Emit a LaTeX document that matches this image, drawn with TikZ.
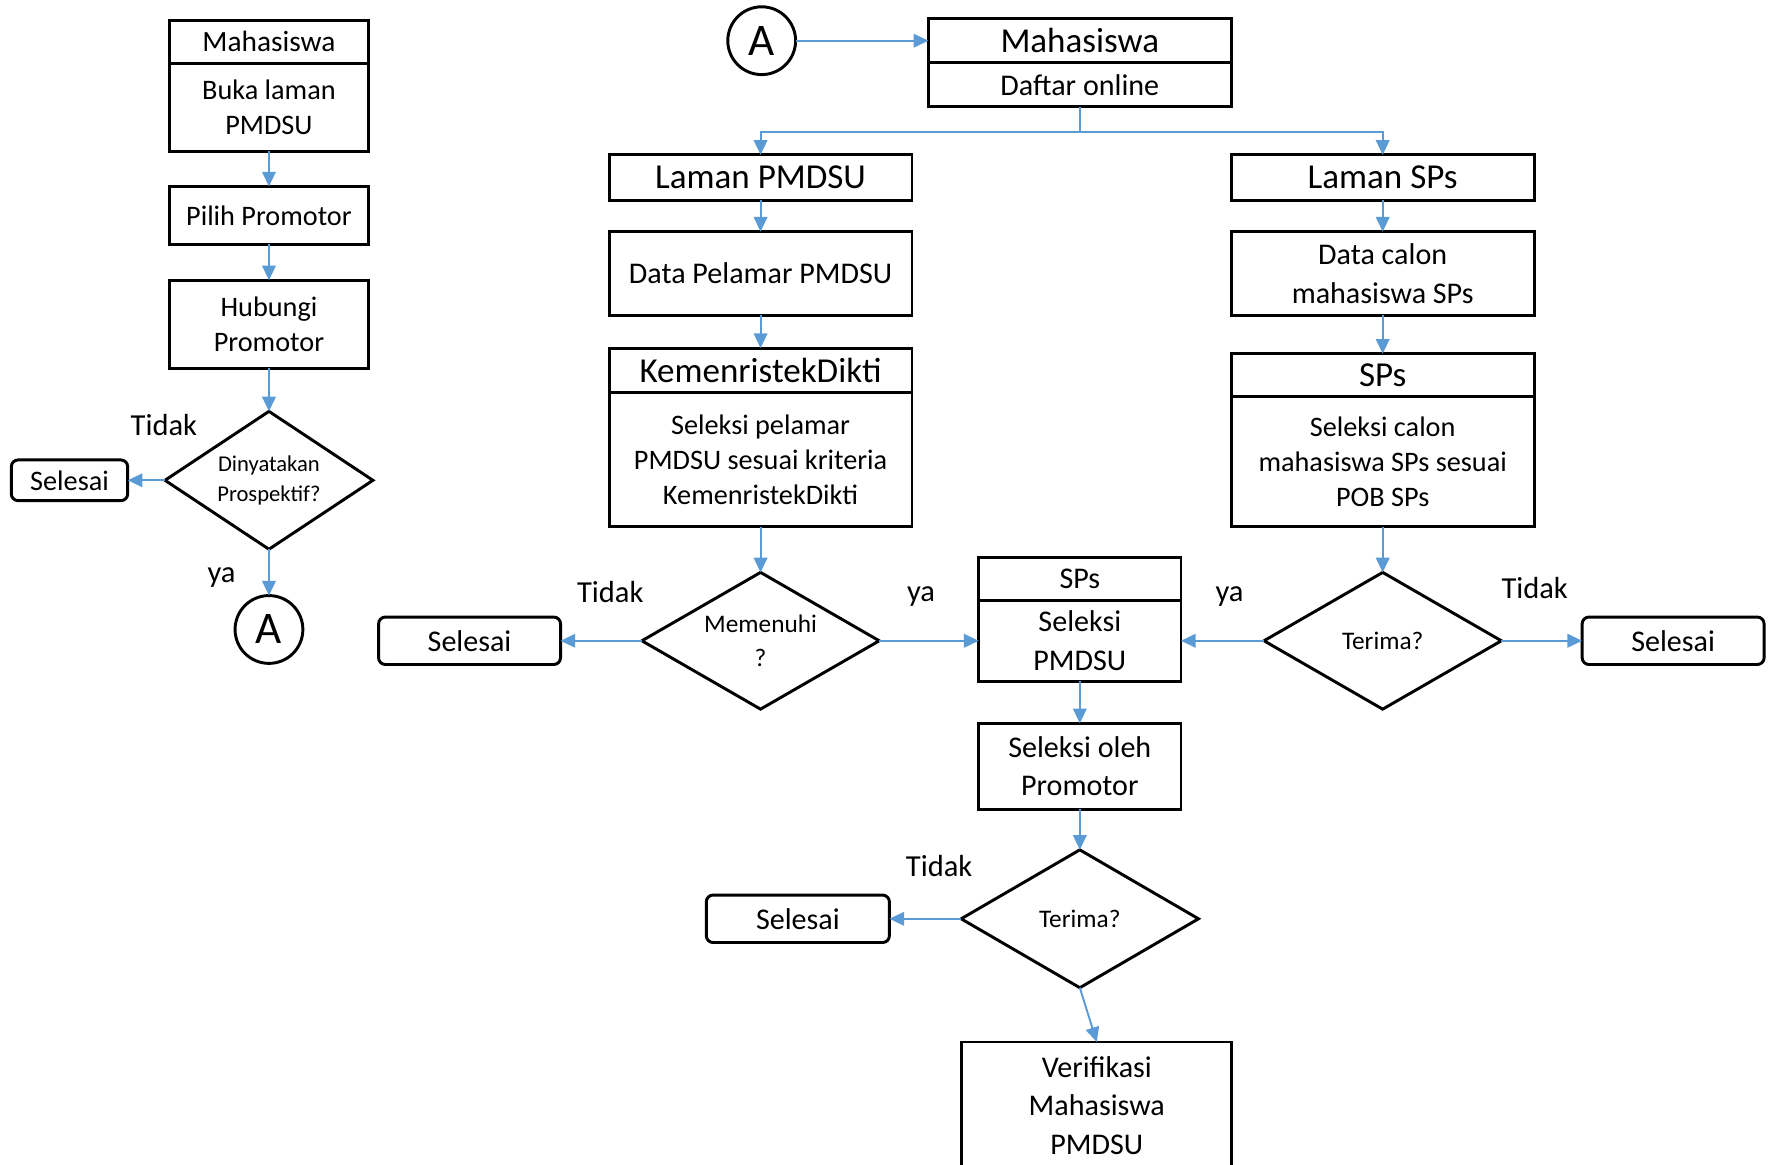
\documentclass[tikz,border=0pt]{standalone}
\usepackage{fontspec}
\setmainfont{Carlito}
\usetikzlibrary{shapes.geometric,positioning,arrows.meta}
\definecolor{flowblue}{HTML}{5B9BD5}
\tikzset{box style/.style={
		draw=black,
		line width=1.3pt,
		fill=white,
		rectangle,
		align=center,
		inner sep=0pt,
		outer sep=0pt,
		font=\fontsize{13.3}{17}\selectfont,
	},
	left box/.style={
		box style,
		minimum width=88pt,
		font=\fontsize{12.5}{15.5}\selectfont,
	},
	wide box/.style={
		box style,
		minimum width=134pt,
	},
	mid box/.style={
		box style,
		minimum width=89.5pt,
	},
	head style/.style={
		font=\fontsize{15.5}{19}\selectfont,
	},
	end style/.style={
		box style,
		rounded corners=3pt,
		minimum width=80.5pt,
		minimum height=21pt,
	},
	decision style/.style={
		draw=black,
		line width=1.3pt,
		diamond,
		aspect=1.7,
		align=center,
		inner sep=0pt,
		outer sep=0pt,
		minimum width=105pt,
		minimum height=60.5pt,
		font=\fontsize{11.2}{15}\selectfont,
	},
	connector style/.style={
		draw=black,
		line width=1.3pt,
		circle,
		inner sep=0pt,
		outer sep=0pt,
		minimum size=30pt,
		font=\fontsize{20}{24}\selectfont,
	},
	arrow style/.style={
		draw=flowblue,
		line width=0.85pt,
	},
	label style/.style={
		font=\fontsize{13.5}{16}\selectfont,
	}
}

\begin{document}
\begin{tikzpicture}[x=0.5pt,y=-0.5pt,>={Triangle[length=6.5pt,width=6pt]}]
	\clip (0,0) rectangle (1568,1030);
	
	\node[left box, minimum height=19pt, font=\fontsize{13}{16}\selectfont] (MhsKiri) at (238,37) {Mahasiswa};
	\node[left box, minimum height=39pt, below=0pt of MhsKiri] (BukaLaman) {Buka laman\\PMDSU};
	
	\node[left box, minimum height=25.5pt] (Pilih) at (238,190.5) {Pilih Promotor}
	edge [arrow style, <-] (BukaLaman);
	
	\node[left box, minimum height=39pt] (Hubungi) at (238,287) {Hubungi\\Promotor}
	edge [arrow style, <-] (Pilih);
	
	\node[decision style, minimum width=92pt, minimum height=61pt, aspect=1.5, font=\fontsize{10}{13}\selectfont] (Prospektif) at (238,425) {Dinyatakan\\Prospektif?}
	edge [arrow style, <-] (Hubungi);
	
	\node[end style, minimum width=51.5pt, minimum height=18pt, font=\fontsize{12.5}{15}\selectfont] (SelesaiKiri) at (61.5,425) {Selesai}
	edge [arrow style, <-] (Prospektif);
	
	\node[connector style] (AKiri) at (238,557) {A}
	edge [arrow style, <-] (Prospektif);
	
	\node[label style] (TidakKiri) at (145,376) {Tidak};
	\node[label style] (YaKiri) at (196,511) {ya};
	
	\node[connector style] (AKanan) at (674,36) {A};
	
	\node[wide box, head style, minimum height=19.5pt] (MhsKanan) at (955.5,36) {Mahasiswa}
	edge [arrow style, <-] (AKanan);
	\node[wide box, minimum height=19.5pt, below=0pt of MhsKanan] (Daftar) {Daftar online};
	
	\node[wide box, head style, minimum height=20pt] (LamanPMDSU) at (673,157) {Laman PMDSU};
	\node[wide box, head style, minimum height=20pt] (LamanSPs) at (1223.5,157) {Laman SPs};
	\draw[arrow style, ->] (Daftar.south) -- ++(0,22) -| (LamanPMDSU.north);
	\draw[arrow style, ->] (Daftar.south) -- ++(0,22) -| (LamanSPs.north);
	
	\node[wide box, minimum height=37pt] (DataPMDSU) at (673,242) {Data Pelamar PMDSU}
	edge [arrow style, <-] (LamanPMDSU);
	
	\node[wide box, head style, minimum height=19.5pt] (Kemen) at (673,327.5) {KemenristekDikti}
	edge [arrow style, <-] (DataPMDSU);
	\node[wide box, minimum height=59.5pt, font=\fontsize{12.5}{15.5}\selectfont, below=0pt of Kemen] (SeleksiKemen) {Seleksi pelamar\\PMDSU sesuai kriteria\\KemenristekDikti};
	
	\node[decision style] (Memenuhi) at (673,567) {Memenuhi\\?}
	edge [arrow style, <-] (SeleksiKemen);
	
	\node[end style] (SelesaiPMDSU) at (415.5,567) {Selesai}
	edge [arrow style, <-] (Memenuhi);
	
	\node[mid box, minimum height=19pt] (SPsTengah) at (955.5,512) {SPs};
	\node[mid box, minimum height=36pt, below=0pt of SPsTengah] (SeleksiPMDSU) {Seleksi\\PMDSU}
	edge [arrow style, <-] (Memenuhi);
	
	\node[wide box, minimum height=37pt] (DataSPs) at (1223.5,242) {Data calon\\mahasiswa SPs}
	edge [arrow style, <-] (LamanSPs);
	
	\node[wide box, head style, minimum height=19pt] (SPsKanan) at (1223.5,332) {SPs}
	edge [arrow style, <-] (DataSPs);
	\node[wide box, minimum height=57.5pt, font=\fontsize{12.5}{15.5}\selectfont, below=0pt of SPsKanan] (SeleksiSPs) {Seleksi calon\\mahasiswa SPs sesuai\\POB SPs};
	
	\node[decision style] (TerimaSPs) at (1223.5,567) {Terima?}
	edge [arrow style, <-] (SeleksiSPs);
	\draw[arrow style, ->] (TerimaSPs.west) -- (SeleksiPMDSU.east);
	
	\node[end style] (SelesaiSPs) at (1480.5,567) {Selesai}
	edge [arrow style, <-] (TerimaSPs);
	
	\node[mid box, minimum height=38pt] (Promotor) at (955.5,678) {Seleksi oleh\\Promotor}
	edge [arrow style, <-] (SeleksiPMDSU);
	
	\node[decision style, minimum height=61pt] (TerimaPromotor) at (955.5,813) {Terima?}
	edge [arrow style, <-] (Promotor);
	
	\node[end style, minimum width=81pt] (SelesaiPromotor) at (706,813) {Selesai}
	edge [arrow style, <-] (TerimaPromotor);
	
	\node[box style, minimum width=119.5pt, minimum height=56pt] (Verifikasi) at (970.5,978) {Verifikasi\\Mahasiswa\\PMDSU};
	\draw[arrow style, ->] (TerimaPromotor.south) -- (Verifikasi.north);
	
	\node[label style] (TidakPMDSU) at (540,524) {Tidak};
	\node[label style] (YaPMDSU) at (815,528) {ya};
	\node[label style] (YaSPs) at (1088,528) {ya};
	\node[label style] (TidakSPs) at (1358,520) {Tidak};
	\node[label style] (TidakPromotor) at (831,766) {Tidak};
\end{tikzpicture}
\end{document}
